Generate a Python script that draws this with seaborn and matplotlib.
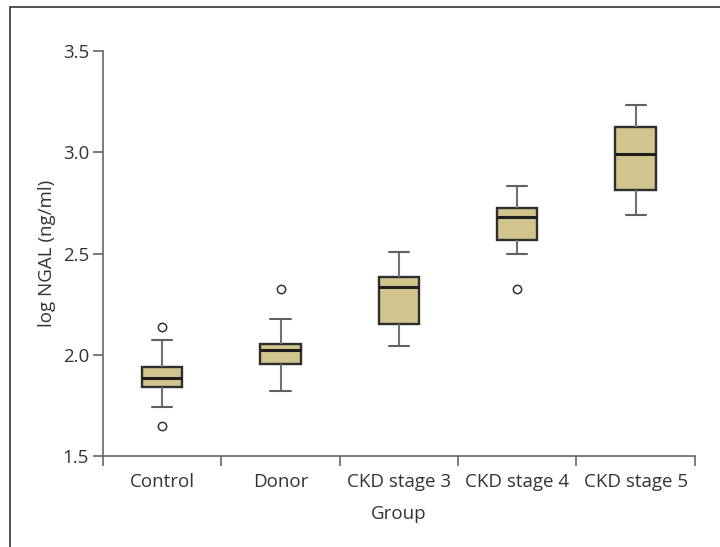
import numpy as np
import pandas as pd
import matplotlib
matplotlib.use("Agg")
import matplotlib.pyplot as plt
import seaborn as sns
from matplotlib.lines import Line2D
from matplotlib.ticker import FixedLocator

# values (log NGAL, ng/ml)
groups = ['Control', 'Donor', 'CKD stage 3', 'CKD stage 4', 'CKD stage 5']
q1 = [1.842, 1.954, 2.150, 2.567, 2.815]
median = [1.887, 2.023, 2.336, 2.679, 2.993]
q3 = [1.941, 2.055, 2.384, 2.723, 3.123]
whisker_lo = [1.742, 1.824, 2.043, 2.499, 2.692]
whisker_hi = [2.073, 2.175, 2.507, 2.833, 3.233]
outliers_lo = [[1.647], [], [], [2.325], []]
outliers_hi = [[2.137], [2.325], [], [], []]
yticks = [1.5, 2.0, 2.5, 3.0, 3.5]

# points that reproduce the five-number summary of each group
rows = []
for i, g in enumerate(groups):
    pad = max(len(outliers_lo[i]), len(outliers_hi[i]))
    vals = (outliers_lo[i] + [whisker_lo[i]] * (1 + pad - len(outliers_lo[i]))
            + [q1[i], q1[i], median[i], q3[i], q3[i]]
            + [whisker_hi[i]] * (1 + pad - len(outliers_hi[i])) + outliers_hi[i])
    rows += [(g, v) for v in vals]
df = pd.DataFrame(rows, columns=['Group', 'NGAL'])

sns.set_theme(style="ticks")
plt.rcParams['font.family'] = ['Open Sans', 'DejaVu Sans']
text_col = '#333333'
spine_col = '#666666'
fs = 13.5

fig = plt.figure(figsize=(7.2, 5.47), dpi=100)
ax = fig.add_axes([0.143, 0.166, 0.822, 0.741])

sns.boxplot(data=df, x='Group', y='NGAL', order=groups, ax=ax, width=0.34,
            color='#D1C48C', saturation=1, whis=1.5,
            boxprops=dict(edgecolor='#2e2e2e', linewidth=1.7),
            medianprops=dict(color='#1f1f1f', linewidth=2.2),
            whiskerprops=dict(color='#707070', linewidth=1.5),
            capprops=dict(color='#606060', linewidth=1.5),
            flierprops=dict(marker='o', markersize=6, markerfacecolor='white',
                            markeredgecolor='#333333', markeredgewidth=1.1))

ax.set_ylim(1.5, 3.5)
ax.set_xlim(-0.5, 4.5)
ax.set_yticks(yticks)
ax.set_yticklabels([f'{t:.1f}' for t in yticks])
ax.xaxis.set_minor_locator(FixedLocator(np.arange(-0.5, 5, 1)))
ax.tick_params(axis='x', which='major', length=0, pad=12, labelsize=fs, labelcolor=text_col)
ax.tick_params(axis='x', which='minor', length=7, width=1.2, color=spine_col, direction='out')
ax.tick_params(axis='y', length=7, width=1.2, color=spine_col, labelsize=fs,
               labelcolor=text_col, pad=3)
ax.set_xlabel('Group', fontsize=fs, color=text_col, labelpad=10)
ax.set_ylabel('log NGAL (ng/ml)', fontsize=fs, color=text_col, labelpad=5)
sns.despine(ax=ax)
for s in ['left', 'bottom']:
    ax.spines[s].set_color(spine_col)
    ax.spines[s].set_linewidth(1.2)

# outer frame (left and top edges visible)
fig.add_artist(Line2D([10 / 720, 10 / 720], [0, 1 - 7 / 547], color='#444444', lw=1.3))
fig.add_artist(Line2D([10 / 720, 1], [1 - 7 / 547, 1 - 7 / 547], color='#444444', lw=1.3))

fig.savefig('out.png', dpi=100)
